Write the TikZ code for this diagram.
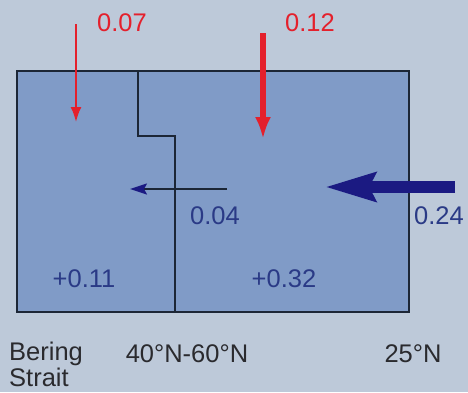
\documentclass[tikz,border=0pt]{standalone}
\usepackage{fontspec}
\setmainfont{Liberation Sans}
\usetikzlibrary{arrows.meta,calc}
\definecolor{bg}{HTML}{BDC9D9}
\definecolor{boxfill}{HTML}{809BC7}
\definecolor{edge}{HTML}{1C2636}
\definecolor{redarr}{HTML}{E4202C}
\definecolor{navy}{HTML}{1B1A82}
\definecolor{bluetxt}{HTML}{2A3A86}
\definecolor{graytxt}{HTML}{2A2A2E}
\tikzset{
  lbl/.style={font=\fontsize{25.5}{30}\selectfont, anchor=base, inner sep=0pt},
  redlbl/.style={lbl, text=redarr},
  bluelbl/.style={lbl, text=bluetxt},
  graylbl/.style={lbl, text=graytxt},
  wall/.style={draw=edge, line width=2pt},
}
\begin{document}
\begin{tikzpicture}[x=1pt,y=-1pt]
\useasboundingbox (0,0) rectangle (468,392);
\fill[bg] (0,0) rectangle (468,392);
% box
\node[wall, fill=boxfill, minimum width=392pt, minimum height=241pt, inner sep=0pt, anchor=north west] (box) at (16,70) {};
% divider
\coordinate (d1) at (138,70);
\coordinate (d2) at (138,136);
\coordinate (d3) at (175,136);
\coordinate (d4) at (175,311);
\draw[wall, line join=miter] (d1) -- (d2) -- (d3) -- (d4);
% red arrows
\coordinate (r1s) at (76,24);
\coordinate (r1e) at (76,122);
\draw[redarr, line width=2pt, -{Latex[length=15pt,width=11pt]}] (r1s) -- (r1e);
\coordinate (r2s) at (263,33);
\coordinate (r2e) at (263,139);
\draw[redarr, line width=5.5pt, -{Latex[length=22pt,width=16pt]}] (r2s) -- (r2e);
% small arrow
\coordinate (s1) at (227,189);
\coordinate (s2) at (130,189);
\draw[edge, line width=2pt] (s1) -- ($(s2)+(12,0)$);
\draw[navy, line width=2pt, -{Stealth[length=17pt,width=11pt,inset=3pt]}] ($(s2)+(14,0)$) -- (s2);
% big arrow
\coordinate (b1) at (455,187);
\coordinate (b2) at (325,187);
\draw[navy, line width=12pt, -{Stealth[length=50pt,width=28pt,inset=6pt]}] (b1) -- (b2);
% labels
\node[redlbl] (l007) at (122,31) {0.07};
\node[redlbl] (l012) at (310,31) {0.12};
\node[bluelbl] (l004) at (215,224) {0.04};
\node[bluelbl] (l024) at (439,224) {0.24};
\node[bluelbl] (l011) at (84,287) {+0.11};
\node[bluelbl] (l032) at (284,287) {+0.32};
\node[graylbl, anchor=base west] (bering) at (9,360) {Bering};
\node[graylbl, anchor=base west] (strait) at (9,386) {Strait};
\node[graylbl] (lat1) at (187,362) {40°N-60°N};
\node[graylbl] (lat2) at (413,362) {25°N};
\end{tikzpicture}
\end{document}
